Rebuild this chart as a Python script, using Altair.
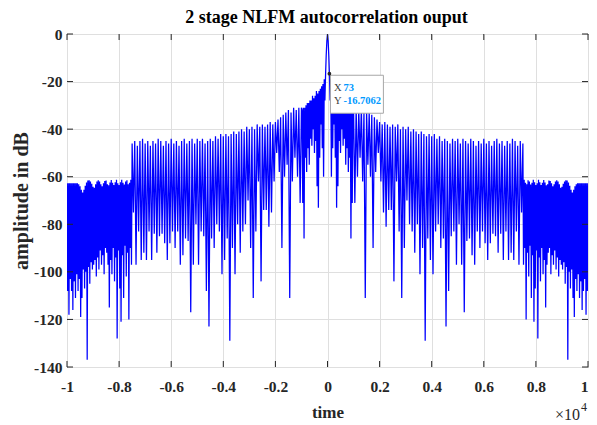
import altair as alt
import pandas as pd

# ---------------- data ----------------
# The autocorrelation magnitude is symmetric about time = 0, so the
# right half (time >= 0) is listed and mirrored for the left half.

# central part: explicit sample times and levels (dB)
r1_x = [0, 25, 50, 73, 100, 125, 150, 175, 200, 225, 250, 275, 300, 325, 350,
        375, 400, 425, 450, 475, 500, 525, 550, 575, 600, 625, 650, 675, 700,
        725, 750, 775, 800, 825, 850, 875, 900, 925, 950, 975]
r1_y = [0, -3, -9, -16.7, -28, -19, -60, -21, -48, -22, -38, -23, -52, -24, -73,
        -25, -64, -24, -45, -26, -50, -27, -40, -26, -47, -28, -44, -28, -55,
        -29, -48, -29, -58, -30, -52, -31, -86, -31, -71, -32]

# 1000 .. 7500: sidelobe peaks (every 100) and nulls in between (every 100, offset 50)
r2_start, r2_step = 1000, 50
r2_tops = [-31, -31, -32, -31, -33, -32, -33, -34, -35, -36,
           -37, -38, -37, -38, -39, -38, -39, -38, -40, -39,
           -40, -39, -41, -40, -41, -42, -41, -42, -43, -42,
           -43, -42, -44, -43, -45, -44, -45, -46, -44, -45,
           -44, -46, -44, -45, -46, -44, -45, -47, -45, -46,
           -44, -46, -45, -47, -45, -44, -46, -45, -47, -45,
           -46, -44, -45, -47, -45, -46]
r2_dips = [-71, -60, -52, -62, -111, -55, -60, -90, -58, -50,
           -62, -75, -81, -74, -74, -104, -62, -83, -111, -90,
           -70, -80, -83, -92, -80, -101, -90, -129, -86, -95,
           -101, -83, -80, -90, -86, -123, -108, -85, -83, -97,
           -80, -97, -117, -87, -86, -93, -97, -83, -90, -83,
           -88, -95, -88, -84, -85, -92, -84, -95, -83, -95,
           -92, -95, -83, -97, -75]

# 7500 .. 10000: dense tail, nulls (from 7525) and scalloped peaks (from 7550)
r3_start, r3_step = 7525, 25
r3_dips = [-97, -90, -120, -92, -102, -89, -111, -93, -121, -107,
           -91, -128, -94, -104, -90, -101, -95, -115, -97, -92,
           -90, -101, -93, -97, -91, -99, -94, -102, -95, -97,
           -99, -96, -105, -98, -137, -100, -107, -99, -111, -119,
           -103, -108, -101, -111, -104, -116, -108, -103, -118, -108]
r3_tops = [-61.3, -62.5, -63.2, -61.5, -62.0, -63.3, -62.5, -61.3, -62.3, -63.5,
           -62.8, -61.3, -62.3, -63.5, -62.5, -61.4, -62.4, -63.6, -63.2, -61.6,
           -61.8, -62.8, -64.0, -63.2, -62.0, -61.5, -62.0, -63.2, -64.6, -64.2,
           -63.0, -62.0, -61.5, -61.6, -62.4, -63.8, -65.5, -66.6, -65.5, -64.0,
           -63.2, -62.8, -62.7, -62.7, -62.7, -62.7, -62.8, -62.8, -62.8, -62.8]

x_ticks = [-10000, -8000, -6000, -4000, -2000, 0, 2000, 4000, 6000, 8000, 10000]
y_ticks = [-140, -120, -100, -80, -60, -40, -20, 0]

title_text = "2 stage NLFM autocorrelation ouput"
tip_x = 73
tip_y = -16.7062

# ---------------- assemble series ----------------
xs = list(r1_x)
ys = list(r1_y)
for i in range(len(r2_dips)):
    xs.append(r2_start + 2 * i * r2_step)
    ys.append(r2_tops[i])
    xs.append(r2_start + (2 * i + 1) * r2_step)
    ys.append(r2_dips[i])
xs.append(r2_start + 2 * len(r2_dips) * r2_step)
ys.append(r2_tops[-1])
for i in range(len(r3_dips)):
    xs.append(r3_start + 2 * i * r3_step)
    ys.append(r3_dips[i])
    xs.append(r3_start + (2 * i + 1) * r3_step)
    ys.append(r3_tops[i])

left = [(-x, y) for x, y in zip(xs, ys) if x > 0][::-1]
right = list(zip(xs, ys))
pts = left + right
df = pd.DataFrame({"t": [p[0] for p in pts], "a": [p[1] for p in pts]})
df["i"] = range(len(df))

W, H = 521, 333
FONT = "Liberation Serif"
AX = "#262626"

xscale = alt.Scale(domain=[-10000, 10000], nice=False, zero=False)
yscale = alt.Scale(domain=[-140, 0], nice=False, zero=False)

xaxis = alt.Axis(values=x_ticks, labelExpr="'' + datum.value / 10000",
                 labelAlign={"expr": "datum.value >= 10000 ? 'right' : 'center'"},
                 title="time", grid=True, gridColor="#dfdfdf", gridWidth=1,
                 ticks=False, tickSize=0, domain=False, labelFlush=False,
                 labelOverlap=False, labelPadding=12, titlePadding=10,
                 labelFont=FONT, labelFontSize=15.5, labelFontWeight="bold",
                 labelColor=AX, titleFont=FONT, titleFontSize=17,
                 titleFontWeight="bold", titleColor=AX)
yaxis = alt.Axis(values=y_ticks, labelExpr="'' + datum.value",
                 title="amplitude in dB", grid=True, gridColor="#dfdfdf",
                 gridWidth=1, ticks=False, tickSize=0, domain=False,
                 labelFlush=False, labelOverlap=False, labelPadding=5,
                 titlePadding=2, labelFont=FONT, labelFontSize=15.5,
                 labelFontWeight="bold", labelColor=AX, titleFont=FONT,
                 titleFontSize=20, titleFontWeight="bold", titleColor=AX)

X = alt.X("t:Q", scale=xscale, axis=xaxis)
Y = alt.Y("a:Q", scale=yscale, axis=yaxis)

line = alt.Chart(df).mark_line(color="#0000ff", strokeWidth=1.25, clip=True).encode(
    x=X, y=Y, order="i:Q")

xt = pd.DataFrame({"t": x_ticks})
yt = pd.DataFrame({"a": y_ticks})
tick_b = alt.Chart(xt).mark_rule(color=AX, strokeWidth=1).encode(
    x=X, y=alt.value(H), y2=alt.value(H - 6))
tick_t = alt.Chart(xt).mark_rule(color=AX, strokeWidth=1).encode(
    x=X, y=alt.value(0), y2=alt.value(6))
tick_l = alt.Chart(yt).mark_rule(color=AX, strokeWidth=1).encode(
    y=Y, x=alt.value(0), x2=alt.value(6))
tick_r = alt.Chart(yt).mark_rule(color=AX, strokeWidth=1).encode(
    y=Y, x=alt.value(W), x2=alt.value(W - 6))

tip = pd.DataFrame({"t": [tip_x], "a": [tip_y],
                    "lx": ["X"], "ly": ["Y"],
                    "vx": [str(tip_x)], "vy": [str(tip_y)]})
tbase = alt.Chart(tip)
box = tbase.mark_rect(fill="white", stroke="#a6a6a6", strokeWidth=1,
                      xOffset=1, x2Offset=54, yOffset=1.5, y2Offset=39.5).encode(
    x=X, x2=alt.X2("t"), y=Y, y2=alt.Y2("a"))
dot = tbase.mark_point(filled=True, size=14, color=AX, opacity=1).encode(x=X, y=Y)
lab_x = tbase.mark_text(align="left", baseline="middle", dx=4.5, dy=14,
                        font=FONT, fontSize=10.5, color="#404040").encode(x=X, y=Y, text="lx:N")
val_x = tbase.mark_text(align="left", baseline="middle", dx=14, dy=14,
                        font=FONT, fontSize=10.5, fontWeight="bold",
                        color="#0099ff").encode(x=X, y=Y, text="vx:N")
lab_y = tbase.mark_text(align="left", baseline="middle", dx=4.5, dy=27.5,
                        font=FONT, fontSize=10.5, color="#404040").encode(x=X, y=Y, text="ly:N")
val_y = tbase.mark_text(align="left", baseline="middle", dx=14, dy=27.5,
                        font=FONT, fontSize=10.5, fontWeight="bold",
                        color="#0099ff").encode(x=X, y=Y, text="vy:N")

txt_df = pd.DataFrame({"m": ["\u00d710"], "e": ["4"], "title": [title_text]})
exp_m = alt.Chart(txt_df).mark_text(align="right", baseline="alphabetic",
                                    font=FONT, fontSize=16, color=AX).encode(
    text="m:N", x=alt.value(513), y=alt.value(386))
exp_e = alt.Chart(txt_df).mark_text(align="left", baseline="alphabetic",
                                    font=FONT, fontSize=12, color=AX).encode(
    text="e:N", x=alt.value(514), y=alt.value(377))
ttl = alt.Chart(txt_df).mark_text(align="center", baseline="alphabetic",
                                  font=FONT, fontSize=18, fontWeight="bold",
                                  color="#000000").encode(
    text="title:N", x=alt.value(W / 2 - 1), y=alt.value(-11.5))

chart = alt.layer(
    line, tick_b, tick_t, tick_l, tick_r, box, dot, lab_x, val_x, lab_y, val_y,
    exp_m, exp_e, ttl,
).properties(
    width=W, height=H,
    padding={"left": 59, "top": 26, "right": 1, "bottom": 58},
    autosize=alt.AutoSizeParams(type="none"),
    background="white",
).configure_view(stroke=AX, strokeWidth=1)

chart.save("out.html", embed_options={"renderer": "svg", "actions": False})
